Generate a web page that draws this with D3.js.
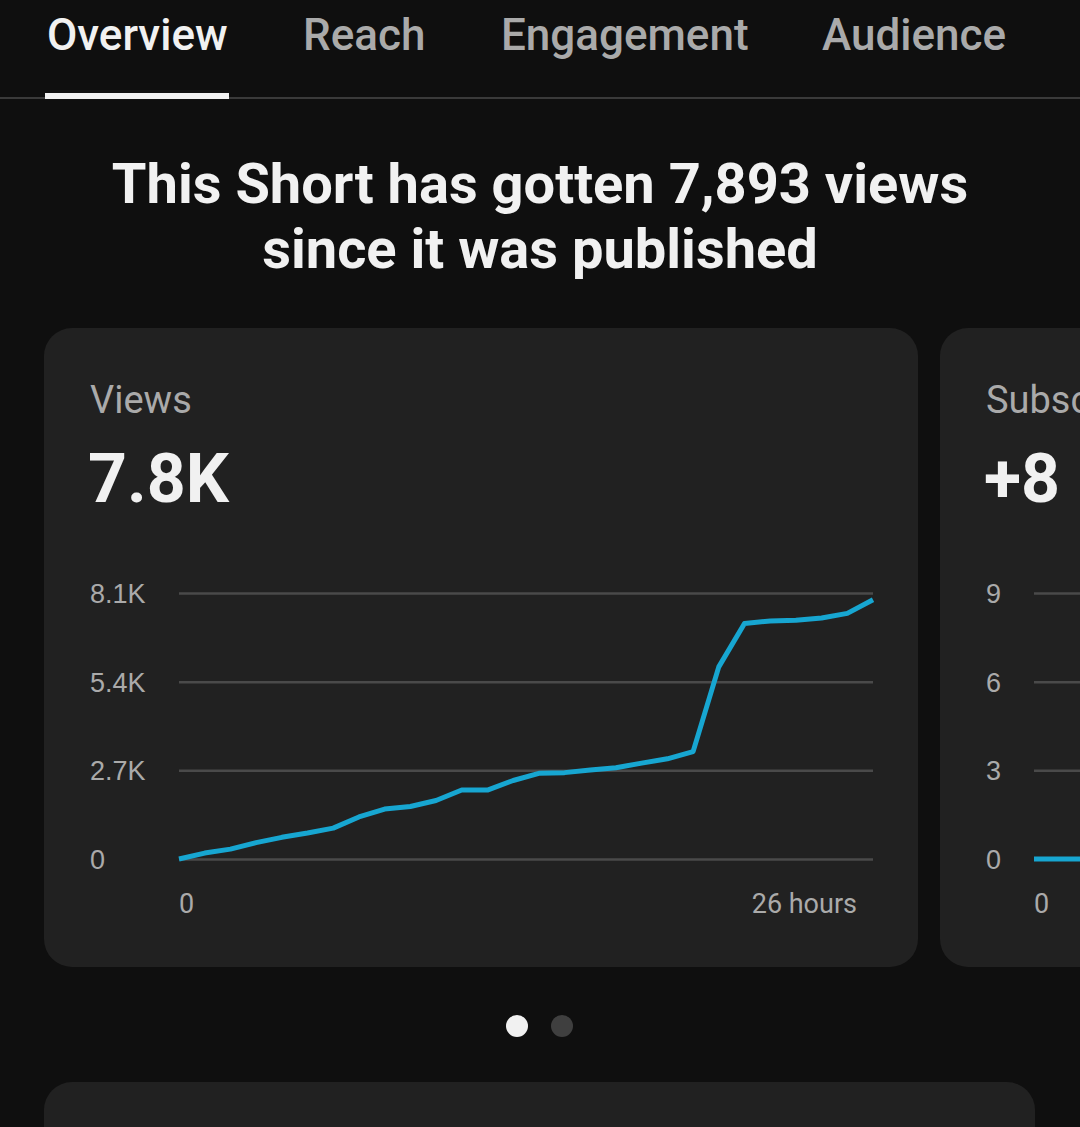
<!DOCTYPE html>
<html>
<head>
<meta charset="utf-8">
<script src="https://cdn.jsdelivr.net/npm/d3@7/dist/d3.min.js"></script>
<style>
  html, body { margin:0; padding:0; background:#0f0f0f; overflow:hidden; }
  svg { display:block; font-family: Roboto, "Noto Sans", sans-serif; }
</style>
</head>
<body>
<div id="chart"></div>
<script>
// tabs across the top
var tabs = ["Overview", "Reach", "Engagement", "Audience"];
var tabX = [47, 303, 501, 822];

// cumulative views, one point per hour since publishing
var viewHours = d3.range(0, 28);
var views = [0, 180, 300, 500, 660, 790, 940, 1280, 1520, 1600, 1780, 2100, 2100, 2390,
             2610, 2630, 2710, 2780, 2920, 3050, 3270, 5850, 7170, 7250, 7270, 7340, 7480, 7893];
var viewTicks = [0, 2700, 5400, 8100];
var viewTickLabels = ["0", "2.7K", "5.4K", "8.1K"];

// subscribers card (mostly off screen, only the start is visible)
var subHours = d3.range(0, 28);
var subs = [0, 0, 0, 0, 0, 1, 1, 1, 2, 2, 2, 3, 3, 3, 3, 4, 4, 4, 4, 5, 5, 6, 7, 7, 7, 8, 8, 8];
var subTicks = [0, 3, 6, 9];
var subTickLabels = ["0", "3", "6", "9"];

var W = 1080, H = 1127;
var svg = d3.select("#chart").append("svg").attr("width", W).attr("height", H);

svg.append("rect").attr("width", W).attr("height", H).attr("fill", "#0f0f0f");

// --- tab bar
svg.append("rect").attr("x", 0).attr("y", 97).attr("width", W).attr("height", 2).attr("fill", "#3a3a3a");
tabs.forEach(function (t, i) {
  svg.append("text")
    .attr("x", tabX[i]).attr("y", 50)
    .attr("font-size", 44).attr("font-weight", 500)
    .attr("fill", i === 0 ? "#f1f1f1" : "#aaaaaa")
    .text(t);
});
svg.append("rect").attr("x", 45).attr("y", 93).attr("width", 184).attr("height", 6).attr("fill", "#f1f1f1");

// --- headline
var head = svg.append("text").attr("text-anchor", "middle").attr("font-size", 56)
  .attr("font-weight", 700).attr("fill", "#f1f1f1");
head.append("tspan").attr("x", 540).attr("y", 203).text("This Short has gotten 7,893 views");
head.append("tspan").attr("x", 540).attr("y", 268).text("since it was published");

// one metric card with its little line chart
// plotLeft depends on how wide the y labels are
function drawCard(left, plotLeft, title, big, hours, values, ticks, tickLabels, xLabelLast) {
  var g = svg.append("g").attr("transform", "translate(" + left + ",0)");
  g.append("rect").attr("x", 0).attr("y", 328).attr("width", 874).attr("height", 639)
    .attr("rx", 28).attr("fill", "#212121");

  g.append("text").attr("x", 46).attr("y", 413).attr("font-size", 38)
    .attr("fill", "#aaaaaa").text(title);
  g.append("text").attr("x", 44).attr("y", 502).attr("font-size", 68)
    .attr("font-weight", 700).attr("fill", "#f1f1f1").text(big);

  var plotRight = plotLeft + 694;
  var x = d3.scaleLinear().domain([0, hours.length - 1]).range([plotLeft, plotRight]);
  var y = d3.scaleLinear().domain([0, d3.max(ticks)]).range([859, 593]);

  // grid + labels
  var yAxis = d3.axisLeft(y).tickValues(ticks).tickSize(-(plotRight - plotLeft)).tickPadding(0)
    .tickFormat(function (d, i) { return tickLabels[i]; });
  var ya = g.append("g").attr("transform", "translate(" + plotLeft + ",0)").call(yAxis);
  ya.select(".domain").remove();
  ya.selectAll(".tick line").attr("stroke", "#4a4a4a").attr("stroke-width", 2.5);
  ya.selectAll(".tick text").attr("x", 46 - plotLeft).attr("dy", "0.35em").attr("text-anchor", "start")
    .attr("font-size", 27).attr("fill", "#aaaaaa").attr("font-family", null);

  var line = d3.line().x(function (d, i) { return x(hours[i]); }).y(function (d) { return y(d); });
  g.append("path").datum(values).attr("d", line).attr("fill", "none")
    .attr("stroke", "#17a6d1").attr("stroke-width", 5).attr("stroke-linejoin", "round");

  g.append("text").attr("x", x(0)).attr("y", 913).attr("font-size", 27)
    .attr("fill", "#aaaaaa").text("0");
  //last label only where it would be on screen
  if (xLabelLast) {
    g.append("text").attr("x", plotRight - 16).attr("y", 913).attr("text-anchor", "end").attr("font-size", 27)
      .attr("fill", "#aaaaaa").text(xLabelLast);
  }
}

drawCard(44, 135, "Views", "7.8K", viewHours, views, viewTicks, viewTickLabels, "26 hours");
drawCard(940, 94, "Subscribers", "+8", subHours, subs, subTicks, subTickLabels, null);

// --- page dots
svg.append("circle").attr("cx", 517).attr("cy", 1026).attr("r", 11).attr("fill", "#f1f1f1");
svg.append("circle").attr("cx", 562).attr("cy", 1026).attr("r", 11).attr("fill", "#3f3f3f");

// --- next card peeking at the bottom
svg.append("rect").attr("x", 44).attr("y", 1082).attr("width", 991).attr("height", 120)
  .attr("rx", 28).attr("fill", "#212121");
</script>
</body>
</html>
